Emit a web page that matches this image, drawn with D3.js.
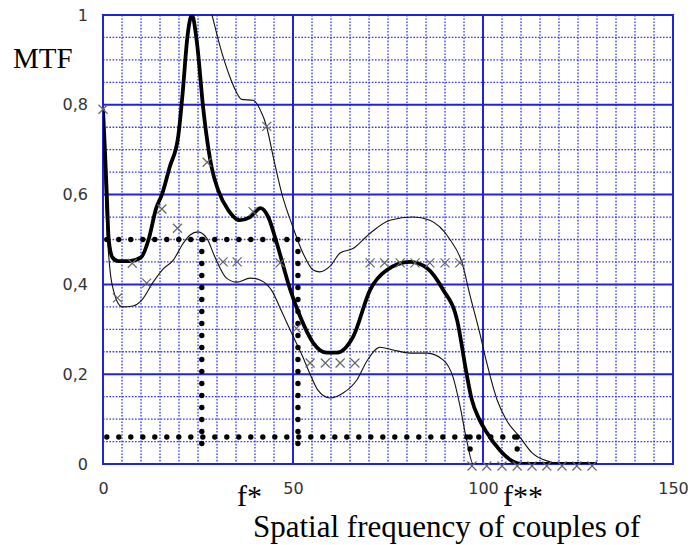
<!DOCTYPE html>
<html>
<head>
<meta charset="utf-8">
<script src="https://cdn.jsdelivr.net/npm/d3@7"></script>
<style>
  body { margin: 0; background: #fff; }
  svg { display: block; }
</style>
</head>
<body>
<script>
// chart values
const xTicks = [0, 50, 100, 150];
const xTickLabels = ["0", "50", "100", "150"];
const yTicks = [0, 0.2, 0.4, 0.6, 0.8, 1];
const yTickLabels = ["0", "0,2", "0,4", "0,6", "0,8", "1"];

// mean MTF (thick line)
const meanX = [0, 0.5, 1, 1.5, 2.5, 4, 7, 10, 12, 14, 15.5, 17.5, 19.8, 21, 22.2, 23.4, 24.7, 26.4, 28.6, 30.3, 33, 36, 38.7, 41.5, 43.5, 45.8, 49.2, 51.8, 55.3, 58.9, 61.6, 65.8, 70.3, 74.7, 80.8, 85.3, 89.5, 93.2, 95.7, 97, 99, 101, 104.5, 108, 110, 130];
const meanY = [0.79, 0.7, 0.6, 0.5, 0.46, 0.452, 0.452, 0.46, 0.5, 0.57, 0.6, 0.66, 0.73, 0.83, 0.95, 1.0, 0.94, 0.79, 0.66, 0.61, 0.565, 0.543, 0.55, 0.57, 0.55, 0.49, 0.39, 0.33, 0.27, 0.248, 0.248, 0.283, 0.388, 0.432, 0.45, 0.436, 0.388, 0.32, 0.2, 0.145, 0.1, 0.07, 0.03, 0.005, 0, 0];

// upper envelope (thin)
const upperX = [27.8, 28.7, 30.8, 33.4, 35, 36.5, 39.5, 41.3, 43.1, 44.8, 47, 50, 52.6, 55.3, 57, 59.7, 62.4, 65.8, 70.3, 75.5, 81.6, 86, 91.3, 94.5, 96.6, 99.2, 101, 103.7, 106, 109.7, 113, 117.6, 120];
const upperY = [1.03, 1.0, 0.93, 0.862, 0.83, 0.812, 0.81, 0.79, 0.75, 0.684, 0.604, 0.527, 0.47, 0.432, 0.428, 0.44, 0.47, 0.48, 0.514, 0.543, 0.55, 0.543, 0.5, 0.448, 0.375, 0.29, 0.225, 0.143, 0.1, 0.06, 0.024, 0.005, 0];

// lower envelope (thin)
const lowerX = [0, 0.6, 1.2, 2, 2.8, 5, 7.9, 10.2, 13.2, 15.8, 18.5, 21, 22.9, 25, 27.3, 29.5, 32.5, 35.2, 38.7, 41.3, 44.5, 47, 50, 52.5, 54.5, 56.5, 59.7, 63.2, 66.8, 69.5, 72.9, 76.3, 80.8, 85.3, 89.5, 92.1, 94, 95.7, 97.4, 110];
const lowerY = [0.78, 0.6, 0.5, 0.42, 0.385, 0.35, 0.352, 0.365, 0.405, 0.434, 0.454, 0.49, 0.51, 0.517, 0.503, 0.46, 0.414, 0.405, 0.414, 0.41, 0.385, 0.34, 0.285, 0.24, 0.2, 0.165, 0.147, 0.158, 0.187, 0.23, 0.26, 0.254, 0.247, 0.247, 0.232, 0.194, 0.127, 0.053, 0, 0];

// individual measurements (crosses)
const crossX = [0, 3.8, 7.7, 11.5, 15.5, 19.6, 27.4, 31.6, 35.3, 39.5, 43.1, 46.6, 50.9, 54.5, 58.5, 62.4, 66.3, 70.3, 74.1, 78.2, 82.1, 86, 90, 93.9, 97.1, 101, 105, 109, 112.9, 116.8, 120.8, 124.7, 128.7];
const crossY = [0.79, 0.37, 0.447, 0.403, 0.568, 0.525, 0.672, 0.45, 0.45, 0.562, 0.752, 0.448, 0.302, 0.225, 0.225, 0.225, 0.225, 0.448, 0.448, 0.448, 0.448, 0.448, 0.448, 0.448, 0, 0, 0, 0, 0, 0, 0, 0, 0];

// dotted guide lines: horizontal [y, x0, x1], vertical [x, y0, y1]
const guideH = [[0.5, 1, 51.5], [0.06, 1, 109]];
const guideV = [[26, 0.5, 0.02], [51.3, 0.5, 0.02], [96.6, 0.06, 0.01], [109, 0.06, 0.01]];

const width = 691, height = 545;
const x = d3.scaleLinear().domain([0, 150]).range([103, 673]);
const y = d3.scaleLinear().domain([0, 1]).range([464, 15]);

const svg = d3.select("body").append("svg")
  .attr("width", width)
  .attr("height", height);

svg.append("clipPath").attr("id", "plot")
  .append("rect")
  .attr("x", x(0)).attr("y", y(1))
  .attr("width", x(150) - x(0)).attr("height", y(0) - y(1));

// minor dotted grid
const minor = svg.append("g")
  .attr("stroke", "#3535f2")
  .attr("stroke-width", 1.3)
  .attr("stroke-dasharray", "1.6 1.6");
minor.selectAll("line.vx")
  .data(d3.range(5, 150, 5).filter(v => v % 50 !== 0))
  .enter().append("line")
  .attr("x1", d => x(d)).attr("x2", d => x(d))
  .attr("y1", y(1)).attr("y2", y(0));
minor.selectAll("line.hy")
  .data(d3.range(1, 20).filter(i => i % 4 !== 0).map(i => i * 0.05))
  .enter().append("line")
  .attr("y1", d => y(d)).attr("y2", d => y(d))
  .attr("x1", x(0)).attr("x2", x(150));

// major solid grid
const major = svg.append("g")
  .attr("stroke", "#2222dd")
  .attr("stroke-width", 2);
major.selectAll("line.vx")
  .data(xTicks)
  .enter().append("line")
  .attr("x1", d => x(d)).attr("x2", d => x(d))
  .attr("y1", y(1)).attr("y2", y(0));
major.selectAll("line.hy")
  .data(yTicks)
  .enter().append("line")
  .attr("y1", d => y(d)).attr("y2", d => y(d))
  .attr("x1", x(0) - 1).attr("x2", x(150) + 1);

// axes: labels only
const xAxis = svg.append("g")
  .attr("transform", `translate(0,${y(0)})`)
  .call(d3.axisBottom(x).tickValues(xTicks).tickSize(0).tickPadding(19)
    .tickFormat((d, i) => xTickLabels[i]));
const yAxis = svg.append("g")
  .attr("transform", `translate(${x(0)},0)`)
  .call(d3.axisLeft(y).tickValues(yTicks).tickSize(0).tickPadding(15)
    .tickFormat((d, i) => yTickLabels[i]));
[xAxis, yAxis].forEach(g => {
  g.select(".domain").remove();
  g.selectAll("text")
    .attr("font-family", "DejaVu Sans, sans-serif")
    .attr("font-size", 16)
    .attr("fill", "#333");
});

const plot = svg.append("g").attr("clip-path", "url(#plot)");

// dotted guides, one black dot every 12px
const step = 12;
const dots = [];
guideH.forEach(([gy, x0, x1]) => {
  const px0 = x(x0), px1 = x(x1);
  d3.range(px0, px1 + 0.1, step).forEach(px => dots.push([px, y(gy)]));
});
guideV.forEach(([gx, y0, y1]) => {
  const py0 = y(y0), py1 = y(y1);
  d3.range(py0, py1 + 0.1, step).forEach(py => dots.push([x(gx), py]));
});
svg.append("g")
  .selectAll("circle")
  .data(dots)
  .enter().append("circle")
  .attr("cx", d => d[0])
  .attr("cy", d => d[1])
  .attr("r", 2.7)
  .attr("fill", "#000");

// crosses (not clipped: the zero row sits on the axis)
const s = 4.5;
svg.append("g")
  .attr("stroke", "#666")
  .attr("stroke-width", 1.2)
  .selectAll("path")
  .data(crossX.map((v, i) => [v, crossY[i]]))
  .enter().append("path")
  .attr("d", d => {
    const cx = x(d[0]), cy = y(d[1]) + (d[1] === 0 ? 2 : 0);
    return `M${cx - s},${cy - s}L${cx + s},${cy + s}M${cx - s},${cy + s}L${cx + s},${cy - s}`;
  });

const line = d3.line()
  .x(d => x(d[0]))
  .y(d => y(d[1]))
  .curve(d3.curveMonotoneX);

function series(xs, ys) {
  return xs.map((v, i) => [v, ys[i]]);
}

plot.append("path")
  .datum(series(upperX, upperY))
  .attr("fill", "none")
  .attr("stroke", "#111")
  .attr("stroke-width", 1.1)
  .attr("d", line);

plot.append("path")
  .datum(series(lowerX, lowerY))
  .attr("fill", "none")
  .attr("stroke", "#111")
  .attr("stroke-width", 1.1)
  .attr("d", line);

plot.append("path")
  .datum(series(meanX, meanY))
  .attr("fill", "none")
  .attr("stroke", "#000")
  .attr("stroke-width", 3.8)
  .attr("stroke-linejoin", "round")
  .attr("d", line);

// text labels
const serif = "Liberation Serif, Times New Roman, serif";
svg.append("text")
  .attr("x", 13).attr("y", 68)
  .attr("font-family", serif).attr("font-size", 29)
  .text("MTF");
svg.append("text")
  .attr("x", 237).attr("y", 506)
  .attr("font-family", serif).attr("font-size", 30)
  .text("f*");
svg.append("text")
  .attr("x", 503).attr("y", 506)
  .attr("font-family", serif).attr("font-size", 30)
  .text("f**");
svg.append("text")
  .attr("x", 253).attr("y", 537)
  .attr("font-family", serif).attr("font-size", 31)
  .text("Spatial frequency of couples of");
</script>
</body>
</html>
